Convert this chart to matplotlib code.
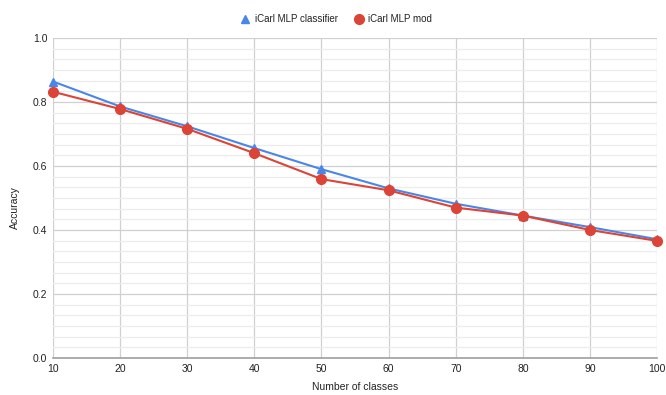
import matplotlib
matplotlib.use("Agg")
import matplotlib.pyplot as plt
from matplotlib.lines import Line2D
from matplotlib.ticker import MultipleLocator

plt.rcParams["font.family"] = ["Liberation Sans", "DejaVu Sans"]

classes = [10, 20, 30, 40, 50, 60, 70, 80, 90, 100]
mlp_classifier = [0.864, 0.786, 0.724, 0.656, 0.590, 0.530, 0.482, 0.445, 0.409, 0.371]
mlp_mod = [0.832, 0.778, 0.716, 0.640, 0.559, 0.524, 0.470, 0.445, 0.400, 0.366]

blue = "#4a86e8"
red = "#db4437"
text_col = "#222222"

fig = plt.figure(figsize=(6.66, 3.95), dpi=100)
ax = fig.add_axes([0.0796, 0.0937, 0.907, 0.8101])

ax.plot(classes, mlp_classifier, color=blue, lw=1.5, marker="^", ms=5.5,
        clip_on=False, zorder=3)
ax.plot(classes, mlp_mod, color=red, lw=1.5, marker="o", ms=7,
        clip_on=False, zorder=4)

ax.set_xlim(10, 100)
ax.set_ylim(0, 1.0)
ax.xaxis.set_major_locator(MultipleLocator(10))
ax.yaxis.set_major_locator(MultipleLocator(0.2))
ax.yaxis.set_minor_locator(MultipleLocator(0.2 / 6))
ax.grid(which="major", color="#d0d0d0", lw=0.9)
ax.grid(which="minor", axis="y", color="#ececec", lw=0.9)
ax.set_axisbelow(True)

for s in ["top", "right", "left"]:
    ax.spines[s].set_visible(False)
ax.spines["bottom"].set_color("#9e9e9e")
ax.spines["bottom"].set_linewidth(1.2)
ax.tick_params(which="both", length=0, labelsize=7.5, colors=text_col, pad=4)
ax.yaxis.set_major_formatter(plt.FuncFormatter(lambda v, p: f"{v:.1f}"))

ax.set_xlabel("Number of classes", fontsize=7.5, color=text_col, va="center")
ax.xaxis.set_label_coords(0.5, -0.09)
ax.set_ylabel("Accuracy", fontsize=7.5, color=text_col, va="center")
ax.yaxis.set_label_coords(-0.063, 0.47)

handles = [
    Line2D([], [], color=blue, marker="^", ls="none", ms=5.5),
    Line2D([], [], color=red, marker="o", ls="none", ms=7),
]
fig.legend(handles, ["iCarl MLP classifier", "iCarl MLP mod"], loc="center",
           bbox_to_anchor=(0.505, 1 - 19 / 395), ncol=2, frameon=False,
           fontsize=7, handlelength=1, handletextpad=0.5, columnspacing=1.6,
           labelcolor=text_col)

fig.savefig("out.png", dpi=100)
